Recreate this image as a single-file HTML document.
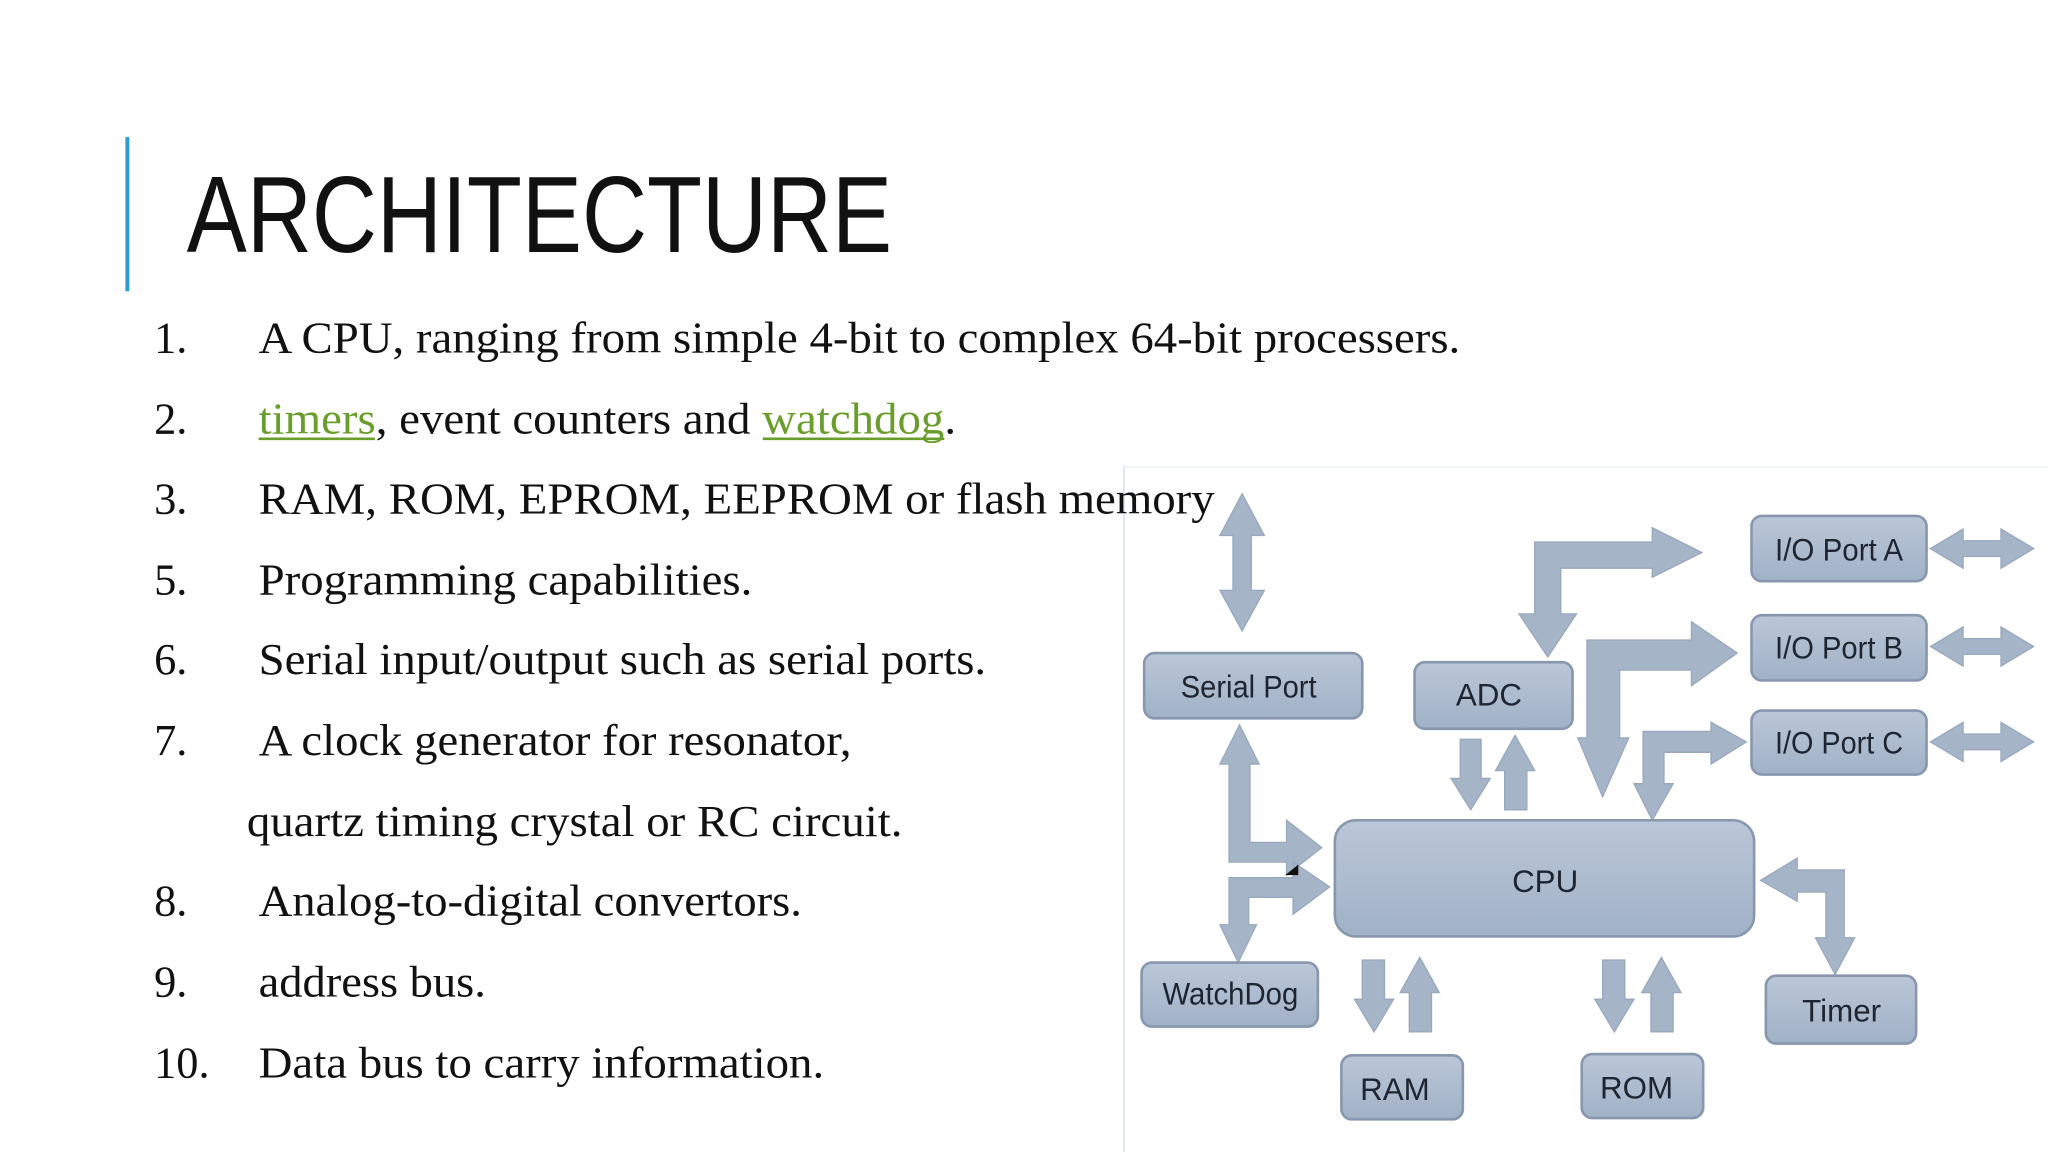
<!DOCTYPE html>
<html><head><meta charset="utf-8"><style>html,body{margin:0;padding:0;background:#fff}svg{display:block}</style></head>
<body>
<svg width="2048" height="1152" viewBox="0 0 1568 882" xmlns="http://www.w3.org/2000/svg">
<defs>
<linearGradient id="bx" x1="0" y1="0" x2="0" y2="1"><stop offset="0" stop-color="#bac7d8"/><stop offset="1" stop-color="#a1b1c6"/></linearGradient>
</defs>
<rect width="1568" height="882" fill="#fff"/>
<!-- diagram frame -->
<line x1="860" y1="357.5" x2="1568" y2="357.5" stroke="#eef2f5" stroke-width="1.5"/>
<line x1="860.5" y1="357" x2="860.5" y2="882" stroke="#dde8ef" stroke-width="1.5"/>
<!-- title -->
<rect x="96" y="105" width="3" height="118" fill="#2e9bd6"/>
<text x="143" y="193" font-family="Liberation Sans, sans-serif" font-size="83" fill="#111" textLength="540" lengthAdjust="spacingAndGlyphs">ARCHITECTURE</text>
<!-- list -->
<g font-family="Liberation Serif, serif" font-size="34" fill="#111">
<text x="118" y="270">1.</text><text x="198" y="270" textLength="920" lengthAdjust="spacingAndGlyphs">A CPU, ranging from simple 4-bit to complex 64-bit processers.</text>
<text x="118" y="332">2.</text><text x="198" y="332" textLength="534" lengthAdjust="spacingAndGlyphs"><tspan fill="#6a9e2c">timers</tspan>, event counters and <tspan fill="#6a9e2c">watchdog</tspan>.</text>
<text x="118" y="393">3.</text>
<text x="118" y="455">5.</text><text x="198" y="455" textLength="378" lengthAdjust="spacingAndGlyphs">Programming capabilities.</text>
<text x="118" y="516">6.</text><text x="198" y="516" textLength="557" lengthAdjust="spacingAndGlyphs">Serial input/output such as serial ports.</text>
<text x="118" y="578">7.</text><text x="198" y="578" textLength="454" lengthAdjust="spacingAndGlyphs">A clock generator for resonator,</text>
<text x="189" y="640" textLength="502" lengthAdjust="spacingAndGlyphs">quartz timing crystal or RC circuit.</text>
<text x="118" y="701">8.</text><text x="198" y="701" textLength="416" lengthAdjust="spacingAndGlyphs">Analog-to-digital convertors.</text>
<text x="118" y="763">9.</text><text x="198" y="763" textLength="174" lengthAdjust="spacingAndGlyphs">address bus.</text>
<text x="118" y="825">10.</text><text x="198" y="825" textLength="433" lengthAdjust="spacingAndGlyphs">Data bus to carry information.</text>
</g>
<line x1="198" y1="336" x2="287" y2="336" stroke="#6a9e2c" stroke-width="2"/>
<line x1="584" y1="336" x2="723" y2="336" stroke="#6a9e2c" stroke-width="2"/>
<!-- arrows -->
<g fill="#a6b4c8" stroke="#98a8bd" stroke-width="1">
<!-- top vertical double -->
<polygon points="951,378 968,410 958,410 958,452 968,452 951,483 934,452 944,452 944,410 934,410"/>
<!-- serial to cpu -->
<polygon points="949,555 964,585 957,585 957,645 985,645 985,628 1012,649 985,670 985,660 941,660 941,585 934,585"/>
<!-- watchdog -->
<polygon points="948,737 934,708 941,708 941,672 990,672 990,660 1018,679 990,700 990,687 956,687 956,708 962,708"/>
<!-- ADC to IO A -->
<polygon points="1185,503 1163,470 1175,470 1175,415 1265,415 1265,404 1303,423 1265,442 1265,435 1195,435 1195,470 1207,470"/>
<!-- CPU to IO B -->
<polygon points="1227,610 1208,565 1215,565 1215,490 1295,490 1295,476 1330,500 1295,525 1295,513 1240,513 1240,565 1247,565"/>
<!-- CPU to IO C -->
<polygon points="1265,628 1251,600 1258,600 1258,560 1310,560 1310,553 1337,568 1310,585 1310,576 1274,576 1274,600 1281,600"/>
<!-- ADC/CPU -->
<polygon points="1118,566 1134,566 1134,596 1141,596 1126,620 1111,596 1118,596"/>
<polygon points="1160,563 1175,590 1169,590 1169,620 1152,620 1152,590 1145,590"/>
<!-- RAM -->
<polygon points="1043,735 1060,735 1060,765 1067,765 1052,790 1037,765 1043,765"/>
<polygon points="1087,733 1102,760 1096,760 1096,790 1079,790 1079,760 1072,760"/>
<!-- ROM -->
<polygon points="1227,735 1244,735 1244,765 1251,765 1236,790 1221,765 1227,765"/>
<polygon points="1272,733 1287,760 1281,760 1281,790 1264,790 1264,760 1257,760"/>
<!-- Timer -->
<polygon points="1348,674 1376,657 1376,666 1412,666 1412,718 1420,718 1405,746 1390,718 1398,718 1398,683 1376,683 1376,690"/>
<!-- IO right double arrows -->
<polygon points="1478,420 1503,405 1503,414 1532,414 1532,405 1557,420 1532,435 1532,426 1503,426 1503,435"/>
<polygon points="1478,495 1503,480 1503,489 1532,489 1532,480 1557,495 1532,510 1532,501 1503,501 1503,510"/>
<polygon points="1478,568 1503,553 1503,562 1532,562 1532,553 1557,568 1532,583 1532,574 1503,574 1503,583"/>
</g>
<polygon points="984,670 994,662 994,670" fill="#111"/>
<!-- boxes -->
<g fill="url(#bx)" stroke="#8797ad" stroke-width="2">
<rect x="876" y="500" width="167" height="50" rx="8"/>
<rect x="1083" y="507" width="121" height="51" rx="8"/>
<rect x="1341" y="395" width="134" height="50" rx="8"/>
<rect x="1341" y="471" width="134" height="50" rx="8"/>
<rect x="1341" y="544" width="134" height="49" rx="8"/>
<rect x="1022" y="628" width="321" height="89" rx="16"/>
<rect x="874" y="737" width="135" height="49" rx="8"/>
<rect x="1027" y="808" width="93" height="49" rx="8"/>
<rect x="1211" y="807" width="93" height="49" rx="8"/>
<rect x="1352" y="747" width="115" height="52" rx="8"/>
</g>
<g font-family="Liberation Sans, sans-serif" font-size="24" fill="#1e2530" text-anchor="middle">
<text x="956" y="534" textLength="104" lengthAdjust="spacingAndGlyphs">Serial Port</text>
<text x="1140" y="540">ADC</text>
<text x="1408" y="429" textLength="98" lengthAdjust="spacingAndGlyphs">I/O Port A</text>
<text x="1408" y="504" textLength="98" lengthAdjust="spacingAndGlyphs">I/O Port B</text>
<text x="1408" y="577" textLength="98" lengthAdjust="spacingAndGlyphs">I/O Port C</text>
<text x="1183" y="683">CPU</text>
<text x="942" y="769" textLength="104" lengthAdjust="spacingAndGlyphs">WatchDog</text>
<text x="1068" y="842">RAM</text>
<text x="1253" y="841">ROM</text>
<text x="1410" y="782">Timer</text>
</g>
<text x="198" y="393" font-family="Liberation Serif, serif" font-size="34" fill="#111" textLength="732" lengthAdjust="spacingAndGlyphs">RAM, ROM, EPROM, EEPROM or flash memory</text>
</svg>
</body></html>
